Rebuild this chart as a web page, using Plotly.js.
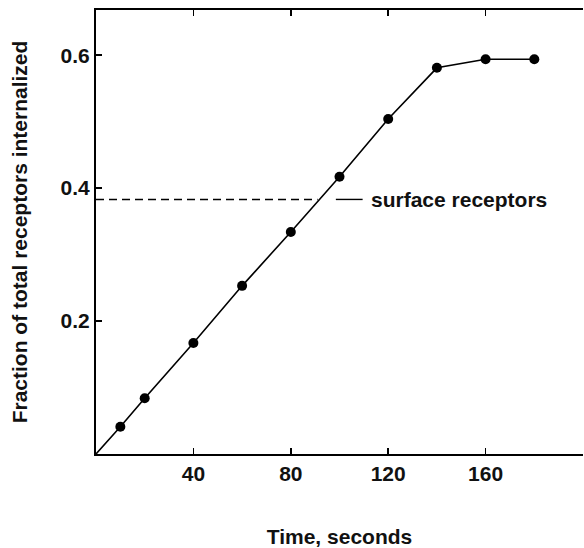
<!DOCTYPE html>
<html>
<head>
<meta charset="utf-8">
<script src="https://cdn.plot.ly/plotly-3.0.1.min.js"></script>
<style>html,body{margin:0;padding:0;background:#fff;}#chart{width:584px;height:548px;}</style>
</head>
<body>
<div id="chart"></div>
<script>
// Data
var timeSeconds = [10, 20, 40, 60, 80, 100, 120, 140, 160, 180];
var fractionInternalized = [0.041, 0.084, 0.167, 0.253, 0.334, 0.417, 0.504, 0.581, 0.594, 0.594];
var lineOriginX = [0];
var lineOriginY = [0];
var surfaceLevel = 0.383;
var surfaceDashEndX = 91;
var leaderStartX = 98.5;
var leaderEndX = 109.5;
var surfaceLabel = "surface receptors";
var xTickVals = [40, 80, 120, 160];
var yTickVals = [0.2, 0.4, 0.6];
var yTickText = ["0.2", "0.4", "0.6"];
var xTitle = "Time, seconds";
var yTitle = "Fraction of total receptors internalized";

var FONT = "Liberation Sans, Arial, sans-serif";
var tickFont = {family: FONT, size: 21, color: "#111", weight: "bold"};

var traces = [
  {
    x: lineOriginX.concat(timeSeconds),
    y: lineOriginY.concat(fractionInternalized),
    type: "scatter",
    mode: "lines",
    line: {color: "#000", width: 1.6},
    hoverinfo: "skip",
    showlegend: false
  },
  {
    x: timeSeconds,
    y: fractionInternalized,
    type: "scatter",
    mode: "markers",
    marker: {color: "#000", size: 10},
    showlegend: false
  },
  {
    x: [0, surfaceDashEndX],
    y: [surfaceLevel, surfaceLevel],
    type: "scatter",
    mode: "lines",
    line: {color: "#000", width: 1.4, dash: "8px,5px"},
    showlegend: false
  },
  {
    x: [leaderStartX, leaderEndX],
    y: [surfaceLevel, surfaceLevel],
    type: "scatter",
    mode: "lines",
    line: {color: "#000", width: 1.4},
    showlegend: false
  }
];

var layout = {
  width: 584,
  height: 548,
  margin: {l: 96, r: 1, t: 10, b: 94},
  paper_bgcolor: "#fff",
  plot_bgcolor: "#fff",
  showlegend: false,
  xaxis: {
    range: [0, 200],
    tickvals: xTickVals,
    ticktext: xTickVals.map(String),
    ticks: "inside",
    ticklen: 6,
    tickwidth: 1.5,
    tickcolor: "#000",
    showline: true,
    linecolor: "#000",
    linewidth: 2,
    mirror: "allticks",
    showgrid: false,
    zeroline: false,
    tickfont: tickFont,
    title: {text: xTitle, font: tickFont, standoff: 46}
  },
  yaxis: {
    range: [0, 0.668],
    tickvals: yTickVals,
    ticktext: yTickText,
    ticks: "inside",
    ticklen: 6,
    tickwidth: 1.5,
    tickcolor: "#000",
    showline: true,
    linecolor: "#000",
    linewidth: 2,
    showgrid: false,
    zeroline: false,
    tickfont: tickFont,
    ticklabelstandoff: 0,
    title: {text: yTitle, font: tickFont, standoff: 27}
  },
  yaxis2: {
    overlaying: "y",
    side: "right",
    matches: "y",
    range: [0, 0.668],
    tickvals: yTickVals,
    showticklabels: false,
    ticks: "inside",
    ticklen: 5,
    tickwidth: 2,
    tickcolor: "#000",
    showline: false,
    showgrid: false,
    zeroline: false
  },
  annotations: [
    {
      x: leaderEndX, y: surfaceLevel, xref: "x", yref: "y",
      text: surfaceLabel, showarrow: false,
      xanchor: "left", yanchor: "middle", xshift: 6,
      font: tickFont
    }
  ]
};

Plotly.newPlot("chart", traces, layout, {staticPlot: true, displayModeBar: false});
</script>
</body>
</html>
